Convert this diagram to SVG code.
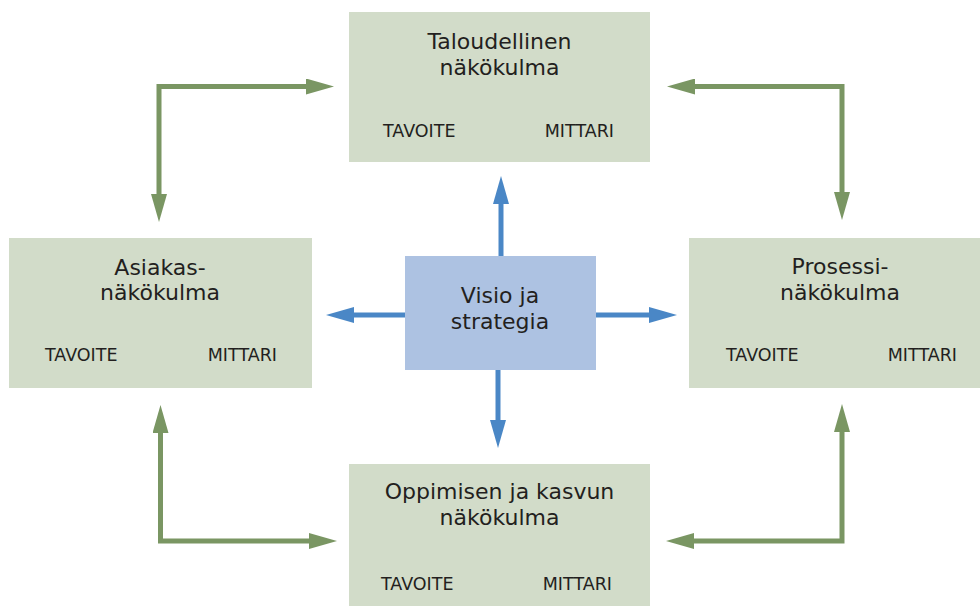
<svg xmlns="http://www.w3.org/2000/svg" width="980" height="606" viewBox="0 0 980 606">
<defs>
<style>
.box{fill:#d2dcc9}
.center{fill:#adc2e2}
text{font-family:"DejaVu Sans","Liberation Sans",sans-serif;fill:#231f20}
.t{font-size:22px;text-anchor:middle}
.s{font-size:17.5px}
.g{fill:none;stroke:#7a9663;stroke-width:5}
.b{fill:none;stroke:#4a87c6;stroke-width:5}
</style>
<marker id="ag" viewBox="0 0 28 16" refX="2" refY="8" markerWidth="28" markerHeight="16" markerUnits="userSpaceOnUse" orient="auto-start-reverse"><path d="M0,0 L28,8 L0,16 z" fill="#7a9663"/></marker>
<marker id="ab" viewBox="0 0 28 16" refX="2" refY="8" markerWidth="28" markerHeight="16" markerUnits="userSpaceOnUse" orient="auto-start-reverse"><path d="M0,0 L28,8 L0,16 z" fill="#4a87c6"/></marker>
</defs>
<rect width="980" height="606" fill="#ffffff"/>
<g id="connectors">
<path class="g" d="M159,196 V86.5 H308" marker-start="url(#ag)" marker-end="url(#ag)"/>
<path class="g" d="M693,86.5 H842 V194" marker-start="url(#ag)" marker-end="url(#ag)"/>
<path class="g" d="M160.5,431 V541 H311" marker-start="url(#ag)" marker-end="url(#ag)"/>
<path class="g" d="M692,541 H842 V430" marker-start="url(#ag)" marker-end="url(#ag)"/>
<path class="b" d="M501,256 V202" marker-end="url(#ab)"/>
<path class="b" d="M405,315 H352" marker-end="url(#ab)"/>
<path class="b" d="M596,315 H651" marker-end="url(#ab)"/>
<path class="b" d="M498,370 V422" marker-end="url(#ab)"/>
</g>
<g id="taloudellinen">
<rect class="box" x="349" y="12" width="301" height="150"/>
<text class="t" x="499.5" y="49">Taloudellinen</text>
<text class="t" x="499.5" y="75">näkökulma</text>
<text class="s" x="383" y="137">TAVOITE</text>
<text class="s" x="614" y="137" text-anchor="end">MITTARI</text>
</g>
<g id="asiakas">
<rect class="box" x="9" y="238" width="303" height="150"/>
<text class="t" x="160" y="275">Asiakas-</text>
<text class="t" x="160" y="300">näkökulma</text>
<text class="s" x="45" y="361">TAVOITE</text>
<text class="s" x="277" y="361" text-anchor="end">MITTARI</text>
</g>
<g id="prosessi">
<rect class="box" x="689" y="238" width="302" height="150"/>
<text class="t" x="840" y="274">Prosessi-</text>
<text class="t" x="840" y="300">näkökulma</text>
<text class="s" x="726" y="361">TAVOITE</text>
<text class="s" x="957" y="361" text-anchor="end">MITTARI</text>
</g>
<g id="oppimisen">
<rect class="box" x="349" y="464" width="301" height="142"/>
<text class="t" x="499.5" y="499">Oppimisen ja kasvun</text>
<text class="t" x="499.5" y="525">näkökulma</text>
<text class="s" x="381" y="590">TAVOITE</text>
<text class="s" x="612" y="590" text-anchor="end">MITTARI</text>
</g>
<g id="visio">
<rect class="center" x="405" y="256" width="191" height="114"/>
<text class="t" x="500" y="303">Visio ja</text>
<text class="t" x="500" y="329">strategia</text>
</g>
</svg>
